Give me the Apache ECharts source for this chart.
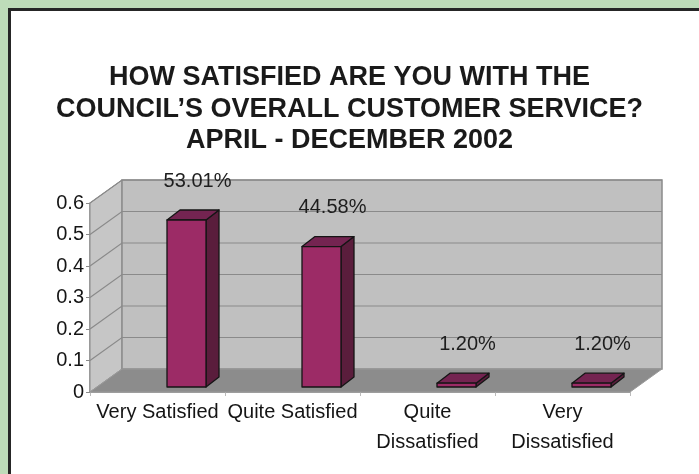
<!DOCTYPE html>
<html>
<head>
<meta charset="utf-8">
<script src="https://cdn.jsdelivr.net/npm/echarts@6/dist/echarts.min.js"></script>
<style>html,body{margin:0;padding:0;background:#bedcb9;}#c{width:699px;height:474px;}</style>
</head>
<body>
<div id="c"></div>
<script>
var categories = ['Very Satisfied', 'Quite Satisfied', 'Quite\nDissatisfied', 'Very\nDissatisfied'];
var values = [0.5301, 0.4458, 0.012, 0.012];
var yTicks = [0, 0.1, 0.2, 0.3, 0.4, 0.5, 0.6];
var titleLines = ['HOW SATISFIED ARE YOU WITH THE', 'COUNCIL\u2019S OVERALL CUSTOMER SERVICE?', 'APRIL - DECEMBER 2002'];

var FONT = "'Liberation Sans', Arial, sans-serif";
var DX = 32, DY = -23;          // wall depth
var BDX = 13, BDY = -10;        // bar depth
var SHIFT = 29, BW = 39, BASE = 5;

var chart = echarts.init(document.getElementById('c'), null, {renderer: 'canvas'});

function wallsRender(params, api) {
  var bw = api.size([1, 0])[0];
  var x0 = api.coord([0, 0])[0] - bw / 2;
  var x1 = api.coord([categories.length - 1, 0])[0] + bw / 2;
  var yb = api.coord([0, 0])[1];
  var yt = api.coord([0, yTicks[yTicks.length - 1]])[1];
  var ch = [];
  ch.push({type: 'polygon', shape: {points: [[x0, yt], [x0 + DX, yt + DY], [x0 + DX, yb + DY], [x0, yb]]},
    style: {fill: '#c6c6c6', stroke: '#8a8a8a', lineWidth: 1}});
  ch.push({type: 'polygon', shape: {points: [[x0 + DX, yt + DY], [x1 + DX, yt + DY], [x1 + DX, yb + DY], [x0 + DX, yb + DY]]},
    style: {fill: '#c0c0c0', stroke: '#8a8a8a', lineWidth: 1.5}});
  ch.push({type: 'polygon', shape: {points: [[x0, yb], [x1, yb], [x1 + DX, yb + DY], [x0 + DX, yb + DY]]},
    style: {fill: '#8c8c8c', stroke: '#9a9a9a', lineWidth: 1}});
  for (var i = 1; i < yTicks.length; i++) {
    var y = api.coord([0, yTicks[i]])[1];
    ch.push({type: 'polyline', shape: {points: [[x0, y], [x0 + DX, y + DY], [x1 + DX, y + DY]]},
      style: {fill: null, stroke: '#8a8a8a', lineWidth: 1.2}});
  }
  return {type: 'group', children: ch};
}

function barRender(params, api) {
  var v = api.value(1);
  var p = api.coord([api.value(0), v]);
  var b = api.coord([api.value(0), 0]);
  var cx = p[0] + SHIFT;
  var xl = cx - BW / 2, xr = cx + BW / 2;
  var yt = p[1] - BASE, yb = b[1] - BASE;
  var st = {stroke: '#151515', lineWidth: 1.3, lineJoin: 'round'};
  return {type: 'group', children: [
    {type: 'polygon', shape: {points: [[xr, yt], [xr + BDX, yt + BDY], [xr + BDX, yb + BDY], [xr, yb]]},
      style: Object.assign({fill: '#5a1d3c'}, st)},
    {type: 'polygon', shape: {points: [[xl, yt], [xl + BDX, yt + BDY], [xr + BDX, yt + BDY], [xr, yt]]},
      style: Object.assign({fill: '#742451'}, st)},
    {type: 'rect', shape: {x: xl, y: yt, width: BW, height: yb - yt},
      style: Object.assign({fill: '#9c2b66'}, st)},
    {type: 'text', x: cx + 11, y: yt - 39,
      style: {text: (v * 100).toFixed(2) + '%', fill: '#1e1e1e', font: '20px ' + FONT, textAlign: 'center', textVerticalAlign: 'middle'}}
  ]};
}

var option = {
  animation: false,
  backgroundColor: '#bedcb9',
  graphic: [
    {type: 'rect', shape: {x: 8, y: 8, width: 720, height: 500}, style: {fill: '#262626'}, z: -10},
    {type: 'rect', shape: {x: 11, y: 11, width: 720, height: 500}, style: {fill: '#ffffff'}, z: -9}
  ],
  title: {
    text: titleLines.join('\n'),
    left: 'center', top: 57,
    textStyle: {fontFamily: FONT, fontWeight: 'bold', fontSize: 27, lineHeight: 31.5, color: '#1a1a1a'}
  },
  grid: {left: 90, top: 203, width: 540, height: 189},
  xAxis: {
    type: 'category', data: categories,
    axisLine: {show: true, lineStyle: {color: '#a0a0a0', width: 1}},
    axisTick: {show: true, length: 4, lineStyle: {color: '#bbbbbb'}},
    axisLabel: {fontFamily: FONT, fontSize: 20, color: '#151515', lineHeight: 30, margin: 5, interval: 0}
  },
  yAxis: {
    type: 'value', min: 0, max: 0.6, interval: 0.1,
    splitLine: {show: false},
    axisLine: {show: true, lineStyle: {color: '#8a8a8a', width: 1.5}},
    axisTick: {show: true, length: 4, lineStyle: {color: '#8a8a8a'}},
    axisLabel: {fontFamily: FONT, fontSize: 20, color: '#151515', margin: 6,
      formatter: function (v) { return String(Math.round(v * 10) / 10); }}
  },
  series: [
    {type: 'custom', renderItem: wallsRender, data: [[0, 0]], z: 1, silent: true},
    {type: 'custom', renderItem: barRender, data: values.map(function (v, i) { return [i, v]; }), z: 3,
      encode: {x: 0, y: 1}}
  ]
};
chart.setOption(option);
</script>
</body>
</html>
